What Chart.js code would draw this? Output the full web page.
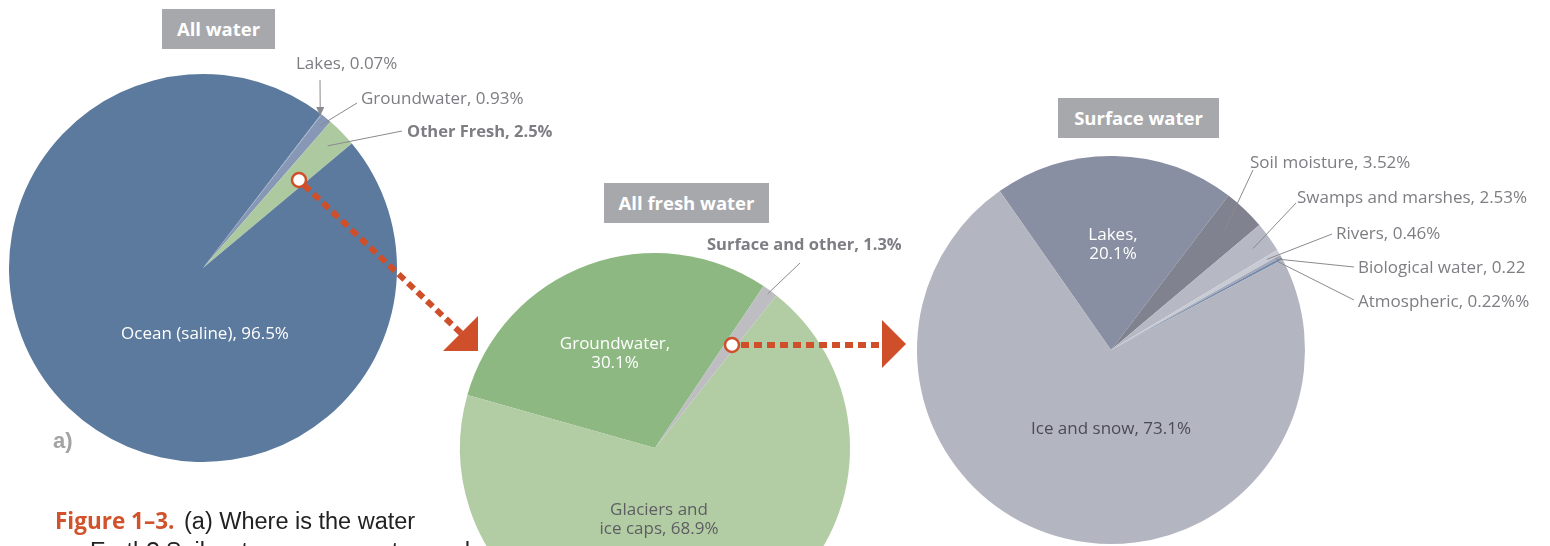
<!DOCTYPE html>
<html>
<head>
<meta charset="utf-8">
<script src="https://cdn.jsdelivr.net/npm/chart.js@4.4.0/dist/chart.umd.min.js"></script>
<style>
  body { margin: 0; width: 1550px; height: 546px; overflow: hidden; background: #fff; position: relative; }
  .layer { position: absolute; left: 0; top: 0; }
  .tag { position: absolute; height: 40px; background: #a7a8ac; color: #fff;
         font: bold 18.5px "Open Sans", sans-serif; line-height: 40px; text-align: center; }
  .panel { position: absolute; left: 53px; top: 428px; color: #a3a3a3; font: bold 22px "Liberation Sans", sans-serif; }
  .caption { position: absolute; left: 55px; top: 506px; font: 23.5px "Liberation Sans", sans-serif; color: #222; line-height: 30px; white-space: nowrap; }
  .caption b { font-family: "Open Sans", sans-serif; color: #d0532b; font-weight: bold; font-size: 22.5px; margin-right: 3px; }
  .caption span { padding-left: 35px; }
</style>
</head>
<body>
<canvas id="allWater" class="layer" width="1550" height="800"></canvas>
<canvas id="freshWater" class="layer" width="1550" height="800"></canvas>
<canvas id="surfaceWater" class="layer" width="1550" height="800"></canvas>

<div class="tag" style="left:162px;top:9px;width:113px;">All water</div>
<div class="tag" style="left:604px;top:183px;width:165px;">All fresh water</div>
<div class="tag" style="left:1058px;top:98px;width:161px;">Surface water</div>
<div class="panel">a)</div>
<div class="caption"><b>Figure 1–3.</b> (a) Where is the water<br><span>Earth? Soil water, swamp water, and</span></div>

<script>
// All water on Earth
var allWaterLabels = ['Lakes', 'Groundwater', 'Other Fresh', 'Ocean (saline)'];
var allWaterValues = [0.07, 0.93, 2.5, 96.5];
var allWaterColors = ['#9aabc8', '#8798b7', '#adc9a0', '#5c7a9d'];

// All fresh water
var freshLabels = ['Groundwater', 'Surface and other', 'Glaciers and ice caps'];
var freshValues = [30.1, 1.3, 68.9];
var freshColors = ['#8eb882', '#bdbdc2', '#b2cca4'];

// Surface water
var surfaceLabels = ['Lakes', 'Soil moisture', 'Swamps and marshes', 'Rivers', 'Biological water', 'Atmospheric', 'Ice and snow'];
var surfaceValues = [20.1, 3.52, 2.53, 0.46, 0.22, 0.22, 73.1];
var surfaceColors = ['#898fa2', '#80838f', '#b6b8c4', '#c9cbd4', '#a3a7b7', '#7489ab', '#b3b5c1'];

var labelFont = '"Open Sans", sans-serif';
var grayText = '#7d7d83';
var leadColor = '#8a8a90';
var red = '#cf4f2b';

// point inside a slice, at its middle angle and a fraction of the radius
function arcPoint(arc, f) {
    var a = (arc.startAngle + arc.endAngle) / 2;
    return { x: arc.x + Math.cos(a) * arc.outerRadius * f, y: arc.y + Math.sin(a) * arc.outerRadius * f };
}

// draws slice labels, leader lines from the slice to the text
function sliceLabels(specs) {
    return {
        id: 'sliceLabels',
        afterDatasetsDraw: function (chart) {
            var ctx = chart.ctx;
            var arcs = chart.getDatasetMeta(0).data;
            var labels = chart.data.labels;
            var values = chart.data.datasets[0].data;
            specs.forEach(function (s) {
                var arc = arcs[s.index];
                var lines = s.text(labels[s.index], values[s.index]);
                ctx.save();
                if (s.lead) {
                    var p = arcPoint(arc, s.lead);
                    ctx.strokeStyle = leadColor;
                    ctx.fillStyle = leadColor;
                    ctx.lineWidth = 1;
                    ctx.beginPath();
                    ctx.moveTo(s.from[0], s.from[1]);
                    ctx.lineTo(p.x, p.y);
                    ctx.stroke();
                    if (s.arrow) {
                        ctx.beginPath();
                        ctx.moveTo(p.x, p.y);
                        ctx.lineTo(p.x - 4, p.y - 9);
                        ctx.lineTo(p.x + 4, p.y - 9);
                        ctx.closePath();
                        ctx.fill();
                    }
                }
                ctx.fillStyle = s.color || grayText;
                ctx.font = (s.bold ? 'bold 16.5' : '17') + 'px ' + labelFont;
                ctx.textAlign = s.align || 'left';
                ctx.textBaseline = 'alphabetic';
                lines.forEach(function (t, i) {
                    ctx.fillText(t, s.x, s.y + i * 19);
                });
                ctx.restore();
            });
        }
    };
}

function pct(suffix) {
    return function (l, v) { return [l + ', ' + v + suffix]; };
}
function twoLines(l, v) { return [l + ',', v + '%']; }

// padding that puts a pie of radius r at (cx, cy) on the 1550x800 canvas
function place(cx, cy, r) {
    return { left: cx - r, top: cy - r, right: 1550 - cx - r, bottom: 800 - cy - r };
}

function makePie(id, labels, values, colors, rotation, pad, specs, extra) {
    var plugins = [sliceLabels(specs)];
    if (extra) plugins.push(extra);
    return new Chart(document.getElementById(id), {
        type: 'pie',
        data: {
            labels: labels,
            datasets: [{ data: values, backgroundColor: colors, borderWidth: 0 }]
        },
        options: {
            responsive: false,
            animation: false,
            events: [],
            rotation: rotation,
            layout: { padding: pad },
            plugins: { legend: { display: false }, tooltip: { enabled: false } }
        },
        plugins: plugins
    });
}

// dotted red arrows between the pies
var arrowsPlugin = {
    id: 'arrows',
    afterDraw: function (chart) {
        var ctx = chart.ctx;
        ctx.save();
        ctx.strokeStyle = red;
        ctx.fillStyle = red;
        ctx.lineWidth = 6;
        ctx.setLineDash([8, 5]);
        ctx.beginPath();
        ctx.moveTo(304, 185);
        ctx.lineTo(462, 334);
        ctx.moveTo(741, 345);
        ctx.lineTo(882, 345);
        ctx.stroke();
        ctx.setLineDash([]);
        ctx.beginPath();
        ctx.moveTo(443, 351); ctx.lineTo(478, 316); ctx.lineTo(478, 351); ctx.closePath();
        ctx.moveTo(882, 320); ctx.lineTo(906, 344); ctx.lineTo(882, 368); ctx.closePath();
        ctx.fill();
        ctx.lineWidth = 2.5;
        [[299, 180], [732, 345]].forEach(function (c) {
            ctx.beginPath();
            ctx.arc(c[0], c[1], 7, 0, Math.PI * 2);
            ctx.fillStyle = '#fff';
            ctx.fill();
            ctx.stroke();
        });
        ctx.restore();
    }
};

makePie('allWater', allWaterLabels, allWaterValues, allWaterColors, 37.5, place(203, 268, 194), [
    { index: 0, text: pct('%'), x: 296, y: 69, lead: 0.99, from: [320, 80], arrow: true },
    { index: 1, text: pct('%'), x: 361, y: 104, lead: 0.95, from: [357, 103] },
    { index: 2, text: pct('%'), x: 407, y: 137, bold: true, lead: 0.9, from: [402, 131] },
    { index: 3, text: pct('%'), x: 205, y: 339, align: 'center', color: '#fff' }
]);

makePie('freshWater', freshLabels, freshValues, freshColors, -74.2, place(655, 448, 195), [
    { index: 0, text: twoLines, x: 615, y: 349, align: 'center', color: '#fff' },
    { index: 1, text: pct('%'), x: 707, y: 250, bold: true, lead: 0.98, from: [800, 263] },
    { index: 2, text: function () { return ['Glaciers and', 'ice caps, ' + freshValues[2] + '%']; },
      x: 659, y: 515, align: 'center', color: '#5e5e62' }
]);

makePie('surfaceWater', surfaceLabels, surfaceValues, surfaceColors, -35, place(1111, 350, 194), [
    { index: 0, text: twoLines, x: 1113, y: 240, align: 'center', color: '#fff' },
    { index: 1, text: pct('%'), x: 1250, y: 168, lead: 0.85, from: [1253, 170] },
    { index: 2, text: pct('%'), x: 1297, y: 203, lead: 0.9, from: [1296, 203] },
    { index: 3, text: pct('%'), x: 1336, y: 239, lead: 0.93, from: [1332, 234] },
    { index: 4, text: pct(''), x: 1358, y: 273, lead: 0.97, from: [1354, 267] },
    { index: 5, text: pct('%%'), x: 1358, y: 307, lead: 0.97, from: [1354, 300] },
    { index: 6, text: pct('%'), x: 1111, y: 434, align: 'center', color: '#4b4b55' }
], arrowsPlugin);
</script>
</body>
</html>
